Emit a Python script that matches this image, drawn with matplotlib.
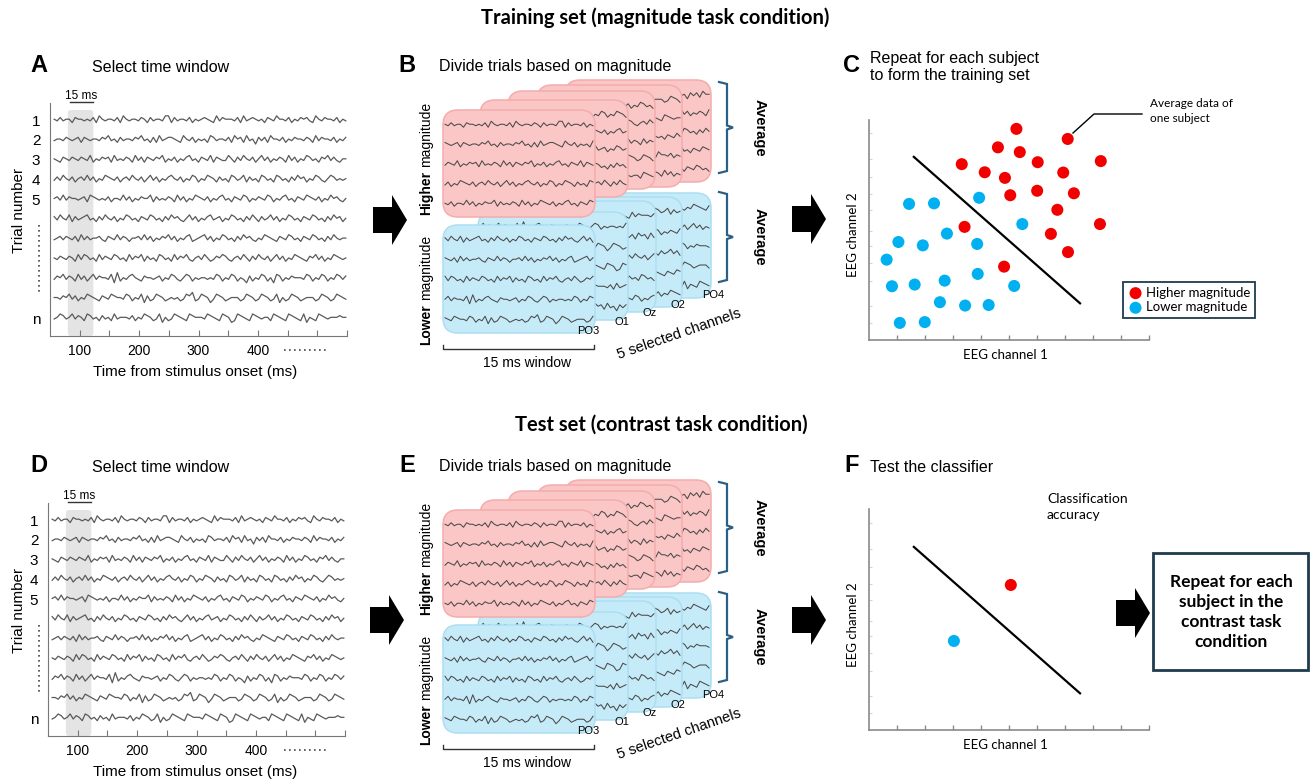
import numpy as np
import matplotlib.pyplot as plt
from matplotlib.patches import FancyBboxPatch, Polygon, Rectangle

plt.rcParams['font.family'] = ['Liberation Sans', 'DejaVu Sans']
APTOS = ['Lato', 'DejaVu Sans']

W, H = 1310, 781

# one digit per sample, level 0-9 (schematic EEG traces)
trial_traces = [
    "54645536554546375455463754554653645547736455463545654374655546374565453654755463546564375465546354",
    "45546545636545546574536455465745363745665437546354537645546375637452646375546354655465374655463546",
    "54365465465473546563745465374636546573546354674536547365447536475463574635465374635476453657464355",
    "46475463564746354765463564754635746354675463547635476536453764573645376453764536475635476435764545",
    "56474655456376545463554746354655736454653746354765463546745365476354654763546745365476546354756435",
    "64754736456745364754635476453654764536475643574635467456354764536475364574635476453654764536475635",
    "45646546374645564365474653556474635465746354673456746354764536475643547654365476453654764536475455",
    "54654653747645374654764537465736453764537465743564753465764356475364754635746354765436574635476545",
    "46574653746357465547283546754365545635476435763545545476354763542635476352763546555476354763547646",
    "55465746354765436547655476354726347653454534768347652476534555347653476534725347653455534765347654",
    "45764574653764536453745554635476534725347654376555476543765237654376545537654376543725437654555655",
]
trial_rows = list(range(11))
row_ticks = [0, 1, 2, 3, 4, 10]
row_labels = ['1', '2', '3', '4', '5', 'n']
time_ticks = [100, 150, 200, 250, 300, 350, 400, 450, 500, 550]
time_labels = ['100', '', '200', '', '300', '', '400', '', '', '']
window_ms = [80, 123]
channels = ['PO3', 'O1', 'Oz', 'O2', 'PO4']

# training set: one point per subject (EEG channel 1, EEG channel 2)
higher_ch1 = [5.27, 7.10, 4.61, 5.39, 3.32, 6.03, 8.28, 4.14, 4.86, 6.94,
              5.05, 6.01, 7.32, 6.73, 8.25, 6.50, 7.11, 3.42, 4.83]
higher_ch2 = [7.54, 7.18, 6.88, 6.71, 6.28, 6.35, 6.39, 5.99, 5.79, 5.98,
              5.17, 5.33, 5.24, 4.65, 4.14, 3.79, 3.14, 4.04, 2.62]
lower_ch1 = [1.44, 2.33, 3.94, 5.48, 1.06, 1.93, 2.79, 3.87, 0.64, 0.83,
             1.64, 2.71, 3.89, 5.19, 2.54, 3.44, 4.28, 1.11, 2.00]
lower_ch2 = [4.86, 4.88, 5.08, 4.14, 3.50, 3.38, 3.80, 3.43, 2.87, 1.92,
             1.98, 2.12, 2.36, 1.93, 1.35, 1.23, 1.25, 0.61, 0.64]
boundary_ch1 = [1.61, 7.54]
boundary_ch2 = [6.54, 1.31]
test_higher = [5.07, 5.18]
test_lower = [3.04, 3.18]
minor_y = [0.61, 1.21, 2.11, 2.75, 3.36, 3.89, 4.64, 5.21, 5.82, 6.46, 7.39]

RED = '#f20000'
BLUE = '#00b0f0'
NAVY = '#1f3b4d'

fig = plt.figure(figsize=(13.1, 7.81), dpi=100)
bg = fig.add_axes([0, 0, 1, 1])
bg.set_xlim(0, W)
bg.set_ylim(H, 0)
bg.axis('off')


def levels(s):
    return np.array([int(c) for c in s], dtype=float) - 4.5


def px_axes(l, t, r, b):
    return fig.add_axes([l / W, 1 - b / H, (r - l) / W, (b - t) / H])


def to_px(ax, x, y):
    xd, yd = ax.transData.transform((x, y))
    return xd, H - yd


def big_arrow(xl, yc):
    pts = [(xl, yc - 13), (xl + 19, yc - 13), (xl + 19, yc - 25), (xl + 34, yc),
           (xl + 19, yc + 25), (xl + 19, yc + 13), (xl, yc + 13)]
    bg.add_patch(Polygon(pts, closed=True, fc='black', ec='none'))


def trial_panel(letter, dy, l, r):
    t, b = 103 + dy, 336 + dy
    ax = px_axes(l, t, r, b)
    ax.set_facecolor('none')
    ax.set_xlim(50, 550)
    ax.set_ylim(10.9, -0.86)
    x0, _ = to_px(ax, window_ms[0], 0)
    x1, _ = to_px(ax, window_ms[1], 0)
    bg.add_patch(FancyBboxPatch((x0, t + 7), x1 - x0, b - t - 7,
                                boxstyle='round,pad=0,rounding_size=3', fc='#e4e4e4', ec='none'))
    bg.plot([x0 + 2, x1], [t - 1, t - 1], color='#333333', lw=1)
    bg.text((x0 + x1) / 2 + 1, t - 7, '15 ms', ha='center', va='center', fontsize=8.5)
    for row, s in zip(trial_rows, trial_traces):
        v = levels(s)
        ax.plot(np.linspace(57, 548, len(v)), row - 0.085 * v, color='#5a5a5a', lw=0.9)
    for sp in ['top', 'right']:
        ax.spines[sp].set_visible(False)
    for sp in ['left', 'bottom']:
        ax.spines[sp].set_color('#777777')
    ax.set_xticks(time_ticks)
    ax.set_xticklabels(time_labels)
    ax.tick_params(axis='x', direction='in', length=4, color='#777777', labelsize=10, pad=6)
    ax.set_yticks(row_ticks)
    ax.set_yticklabels(row_labels)
    ax.tick_params(axis='y', length=0, pad=7, labelsize=11)
    bg.plot([39, 39], [225 + dy, 293 + dy], color='#444444', lw=1.2, ls=(0, (1, 2)))
    bg.plot([284, 328], [350 + dy, 350 + dy], color='#444444', lw=1.2, ls=(0, (1, 2)))
    bg.text(19, 210 + dy, 'Trial number', rotation=90, ha='center', va='center', fontsize=11)
    bg.text(195, 372 + dy, 'Time from stimulus onset (ms)', ha='center', va='center', fontsize=11)
    bg.text(39, 66 + dy, letter, ha='center', va='center', fontsize=17, fontweight='bold')
    bg.text(92, 67 + dy, 'Select time window', ha='left', va='center', fontsize=11.5)


red_cards = [(443, 110, 595, 217), (480, 100, 628, 197), (508, 91, 655, 189),
             (537, 85, 682, 187), (565, 80, 711, 182)]
blue_cards = [(443, 225, 595, 333), (478, 212, 628, 320), (506, 201, 656, 312),
              (535, 197, 682, 307), (563, 193, 711, 298)]
label_pos = [(588, 331), (622, 322), (650, 313), (678, 305), (713, 295)]


def bracket(ytop, ybot, dy):
    ym = (ytop + ybot) / 2
    xs = [719, 727, 727, 733, 727, 727, 719]
    ys = [ytop, ytop + 2, ym - 2, ym, ym + 2, ybot - 2, ybot]
    bg.plot(xs, np.array(ys) + dy, color='#2b5f86', lw=1.6, solid_joinstyle='miter')
    bg.text(760, ym + dy, 'Average', rotation=270, ha='center', va='center',
            fontsize=10.5, fontweight='bold')


def card_panel(letter, dy):
    groups = [(red_cards, '#fbc6c6', '#f4acac'), (blue_cards, '#c6ebf8', '#abdef2')]
    for depth in range(4, -1, -1):
        for g, (cards, fc, ec) in enumerate(groups):
            l, t, r, b = cards[depth]
            t += dy
            b += dy
            z = 10 - depth * 2
            card = FancyBboxPatch((l, t), r - l, b - t, boxstyle='round,pad=0,rounding_size=15',
                                  fc=fc, ec=ec, lw=1.1, zorder=z)
            bg.add_patch(card)
            n = int((r - l - 4) / 3)
            for k in range(5):
                s = trial_traces[(k + 3 * depth + 5 * g) % 11]
                off = (7 * depth + 4 * k) % (len(s) - n)
                v = levels(s[off:off + n])
                y = t + 15 + k * (b - t - 28) / 4
                ln, = bg.plot(np.linspace(l + 2, r - 2, n), y - 1.5 * v,
                              color='#4a4a4a', lw=0.75, zorder=z + 0.5)
                ln.set_clip_path(card)
    for name, (x, y) in zip(channels, label_pos):
        bg.text(x, y + dy, name, ha='center', va='center', fontsize=8, zorder=20)
    bg.text(679, 334 + dy, '5 selected channels', rotation=19, ha='center', va='center',
            fontsize=10.5, rotation_mode='anchor')
    bg.plot([443, 443, 594, 594], [345 + dy, 349 + dy, 349 + dy, 345 + dy], color='#333333', lw=1)
    bg.text(527, 363 + dy, '15 ms window', ha='center', va='center', fontsize=10)
    kw = dict(rotation=90, rotation_mode='anchor', ha='left', va='center', fontsize=10)
    bg.text(426, 215 + dy, 'Higher', fontweight='bold', **kw)
    bg.text(426, 167 + dy, 'magnitude', **kw)
    bg.text(426, 345 + dy, 'Lower', fontweight='bold', **kw)
    bg.text(426, 300 + dy, 'magnitude', **kw)
    bracket(82, 173, dy)
    bracket(192, 282, dy)
    bg.text(407, 65 + dy, letter, ha='center', va='center', fontsize=17, fontweight='bold')
    bg.text(439, 66 + dy, 'Divide trials based on magnitude', ha='left', va='center', fontsize=11.5)


def scatter_axes(t, b):
    ax = px_axes(868.7, t, 1149, b)
    ax.set_facecolor('none')
    ax.set_xlim(0, 10)
    ax.set_ylim(0, (b - t) / 28)
    for sp in ['top', 'right']:
        ax.spines[sp].set_visible(False)
    for sp in ['left', 'bottom']:
        ax.spines[sp].set_color('#8a8a8a')
        ax.spines[sp].set_linewidth(1.2)
    ax.set_xticks(range(1, 11))
    ax.set_xticklabels([])
    ax.tick_params(axis='x', direction='in', length=3.5, color='#8a8a8a', width=1)
    ax.set_yticks(minor_y)
    ax.set_yticklabels([])
    ax.tick_params(axis='y', direction='in', length=2, color='#d5d5d5', width=0.8)
    ax.plot(boundary_ch1, boundary_ch2, color='black', lw=1.6)
    bg.text(853, (t + b) / 2 + 5, 'EEG channel 2', rotation=90, ha='center', va='center',
            fontsize=9.5, family=APTOS)
    bg.text(1005, b + 15, 'EEG channel 1', ha='center', va='center', fontsize=9.5, family=APTOS)
    return ax


# titles
bg.text(655, 18, 'Training set (magnitude task condition)', ha='center', va='center',
        fontsize=14.5, fontweight='bold', family=APTOS)
bg.text(661, 425, 'Test set (contrast task condition)', ha='center', va='center',
        fontsize=14.5, fontweight='bold', family=APTOS)

trial_panel('A', 0, 50, 347)
trial_panel('D', 400, 48, 345)
card_panel('B', 0)
card_panel('E', 400)

for xl, yc in [(373, 220), (792, 219), (370, 620), (792, 620), (1116, 613)]:
    big_arrow(xl, yc)

# panel C
axc = scatter_axes(120, 340)
axc.scatter(higher_ch1, higher_ch2, s=75, color=RED, edgecolors='none', label='Higher magnitude')
axc.scatter(lower_ch1, lower_ch2, s=75, color=BLUE, edgecolors='none', label='Lower magnitude')
leg = axc.legend(loc='upper left', bbox_to_anchor=(1123 / W, 1 - 282 / H), bbox_transform=fig.transFigure,
                 borderaxespad=0, fancybox=False, framealpha=1, handletextpad=0.2,
                 borderpad=0.35, labelspacing=0.2, handlelength=1.2, prop={'family': APTOS, 'size': 9.5})
leg.get_frame().set_edgecolor(NAVY)
leg.get_frame().set_linewidth(1.3)
bg.plot([1073, 1094, 1142], [133, 114, 114], color='black', lw=1)
bg.text(1150, 111, 'Average data of\none subject', ha='left', va='center', fontsize=8.5,
        linespacing=1.35, family=APTOS)
bg.text(852, 65, 'C', ha='center', va='center', fontsize=17, fontweight='bold')
bg.text(870, 67, 'Repeat for each subject\nto form the training set', ha='left', va='center',
        fontsize=11.5, linespacing=1.1)

# panel F
axf = scatter_axes(509, 730)
axf.scatter([test_higher[0]], [test_higher[1]], s=75, color=RED, edgecolors='none')
axf.scatter([test_lower[0]], [test_lower[1]], s=75, color=BLUE, edgecolors='none')
bg.text(1047, 507, 'Classification\naccuracy', ha='left', va='center', fontsize=10,
        linespacing=1.4, family=APTOS)
bg.text(852, 466, 'F', ha='center', va='center', fontsize=17, fontweight='bold')
bg.text(870, 467, 'Test the classifier', ha='left', va='center', fontsize=11.5)

bg.add_patch(Rectangle((1153, 553), 155, 117, fc='white', ec=NAVY, lw=2))
bg.text(1231, 612, 'Repeat for each\nsubject in the\ncontrast task\ncondition', ha='center', va='center',
        fontsize=12.5, fontweight='bold', linespacing=1.3, family=APTOS)

fig.savefig('out.png', dpi=100)
